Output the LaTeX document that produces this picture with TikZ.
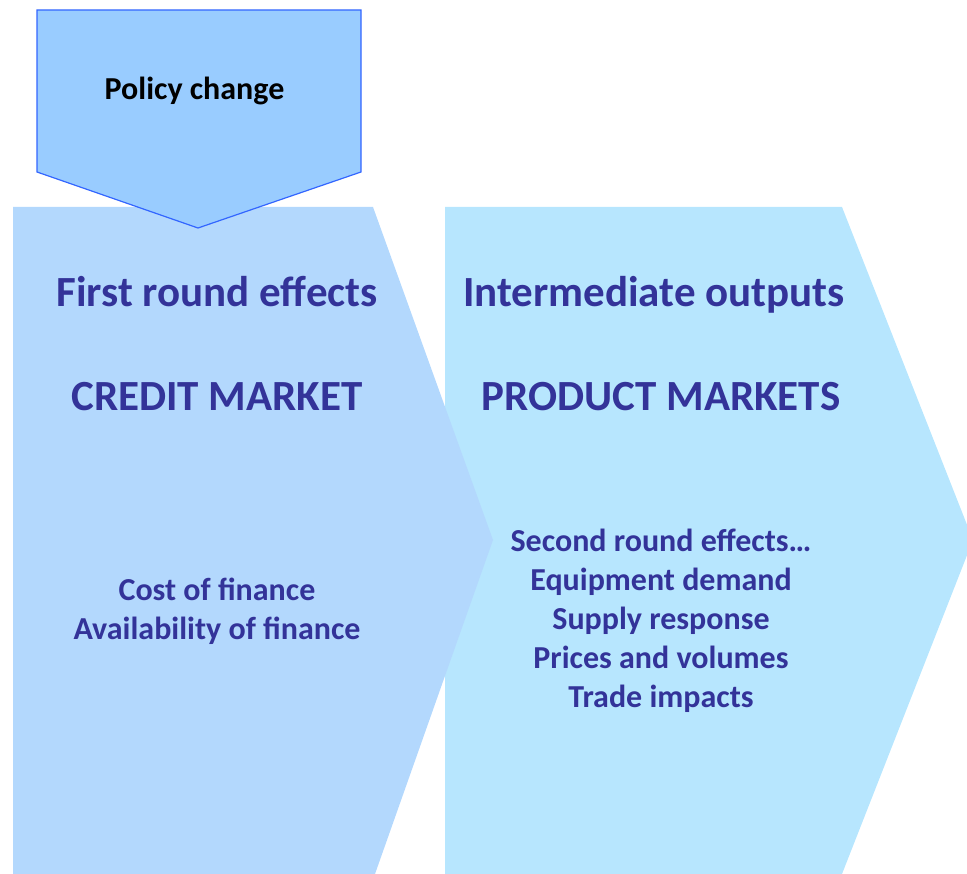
\documentclass[tikz,border=0pt]{standalone}
\usepackage{fontspec}
\setmainfont{Carlito}
\usepackage{tikz}
\definecolor{policyfill}{RGB}{153,204,255}
\definecolor{policyline}{RGB}{51,102,255}
\definecolor{creditfill}{RGB}{179,216,253}
\definecolor{productfill}{RGB}{183,230,254}
\definecolor{labeltext}{RGB}{51,51,153}

\begin{document}
\begin{tikzpicture}[x=1pt,y=-1pt]
            \tikzstyle{every node}+=[inner sep=0pt, anchor=base, font=\bfseries]
            \tikzstyle{bigtext}=[text=labeltext, font=\fontsize{43}{52}\selectfont\bfseries]
            \tikzstyle{smalltext}=[text=labeltext, font=\fontsize{32}{39}\selectfont\bfseries]
            \clip (0,0) rectangle (967,874);
            \fill [productfill] (445,207) -- (842,207) -- (973,540) -- (842,874) -- (445,874) -- cycle;
            \fill [creditfill] (13,207) -- (373,207) -- (493,540) -- (375,874) -- (13,874) -- cycle;
            \draw [policyline, fill=policyfill, line width=1.2pt] (37,10) -- (361,10) -- (361,172) -- (198,228) -- (37,172) -- cycle;
            \node (policy) at (194.5,100) {\fontsize{32}{39}\selectfont Policy change};
            \node [bigtext] (first) at (217,307) {First round effects};
            \node [bigtext] (credit) at (217,411) {CREDIT MARKET};
            \node [smalltext] (cost) at (217,600) {Cost of finance};
            \node [smalltext] (avail) at (217,639) {Availability of finance};
            \node [bigtext] (inter) at (654,307) {Intermediate outputs};
            \node [bigtext] (product) at (661,411) {PRODUCT MARKETS};
            \node [smalltext] (second) at (661,551) {Second round effects…};
            \node [smalltext] (equip) at (661,590) {Equipment demand};
            \node [smalltext] (supply) at (661,629) {Supply response};
            \node [smalltext] (prices) at (661,668) {Prices and volumes};
            \node [smalltext] (trade) at (661,707) {Trade impacts};
        \end{tikzpicture}
\end{document}
